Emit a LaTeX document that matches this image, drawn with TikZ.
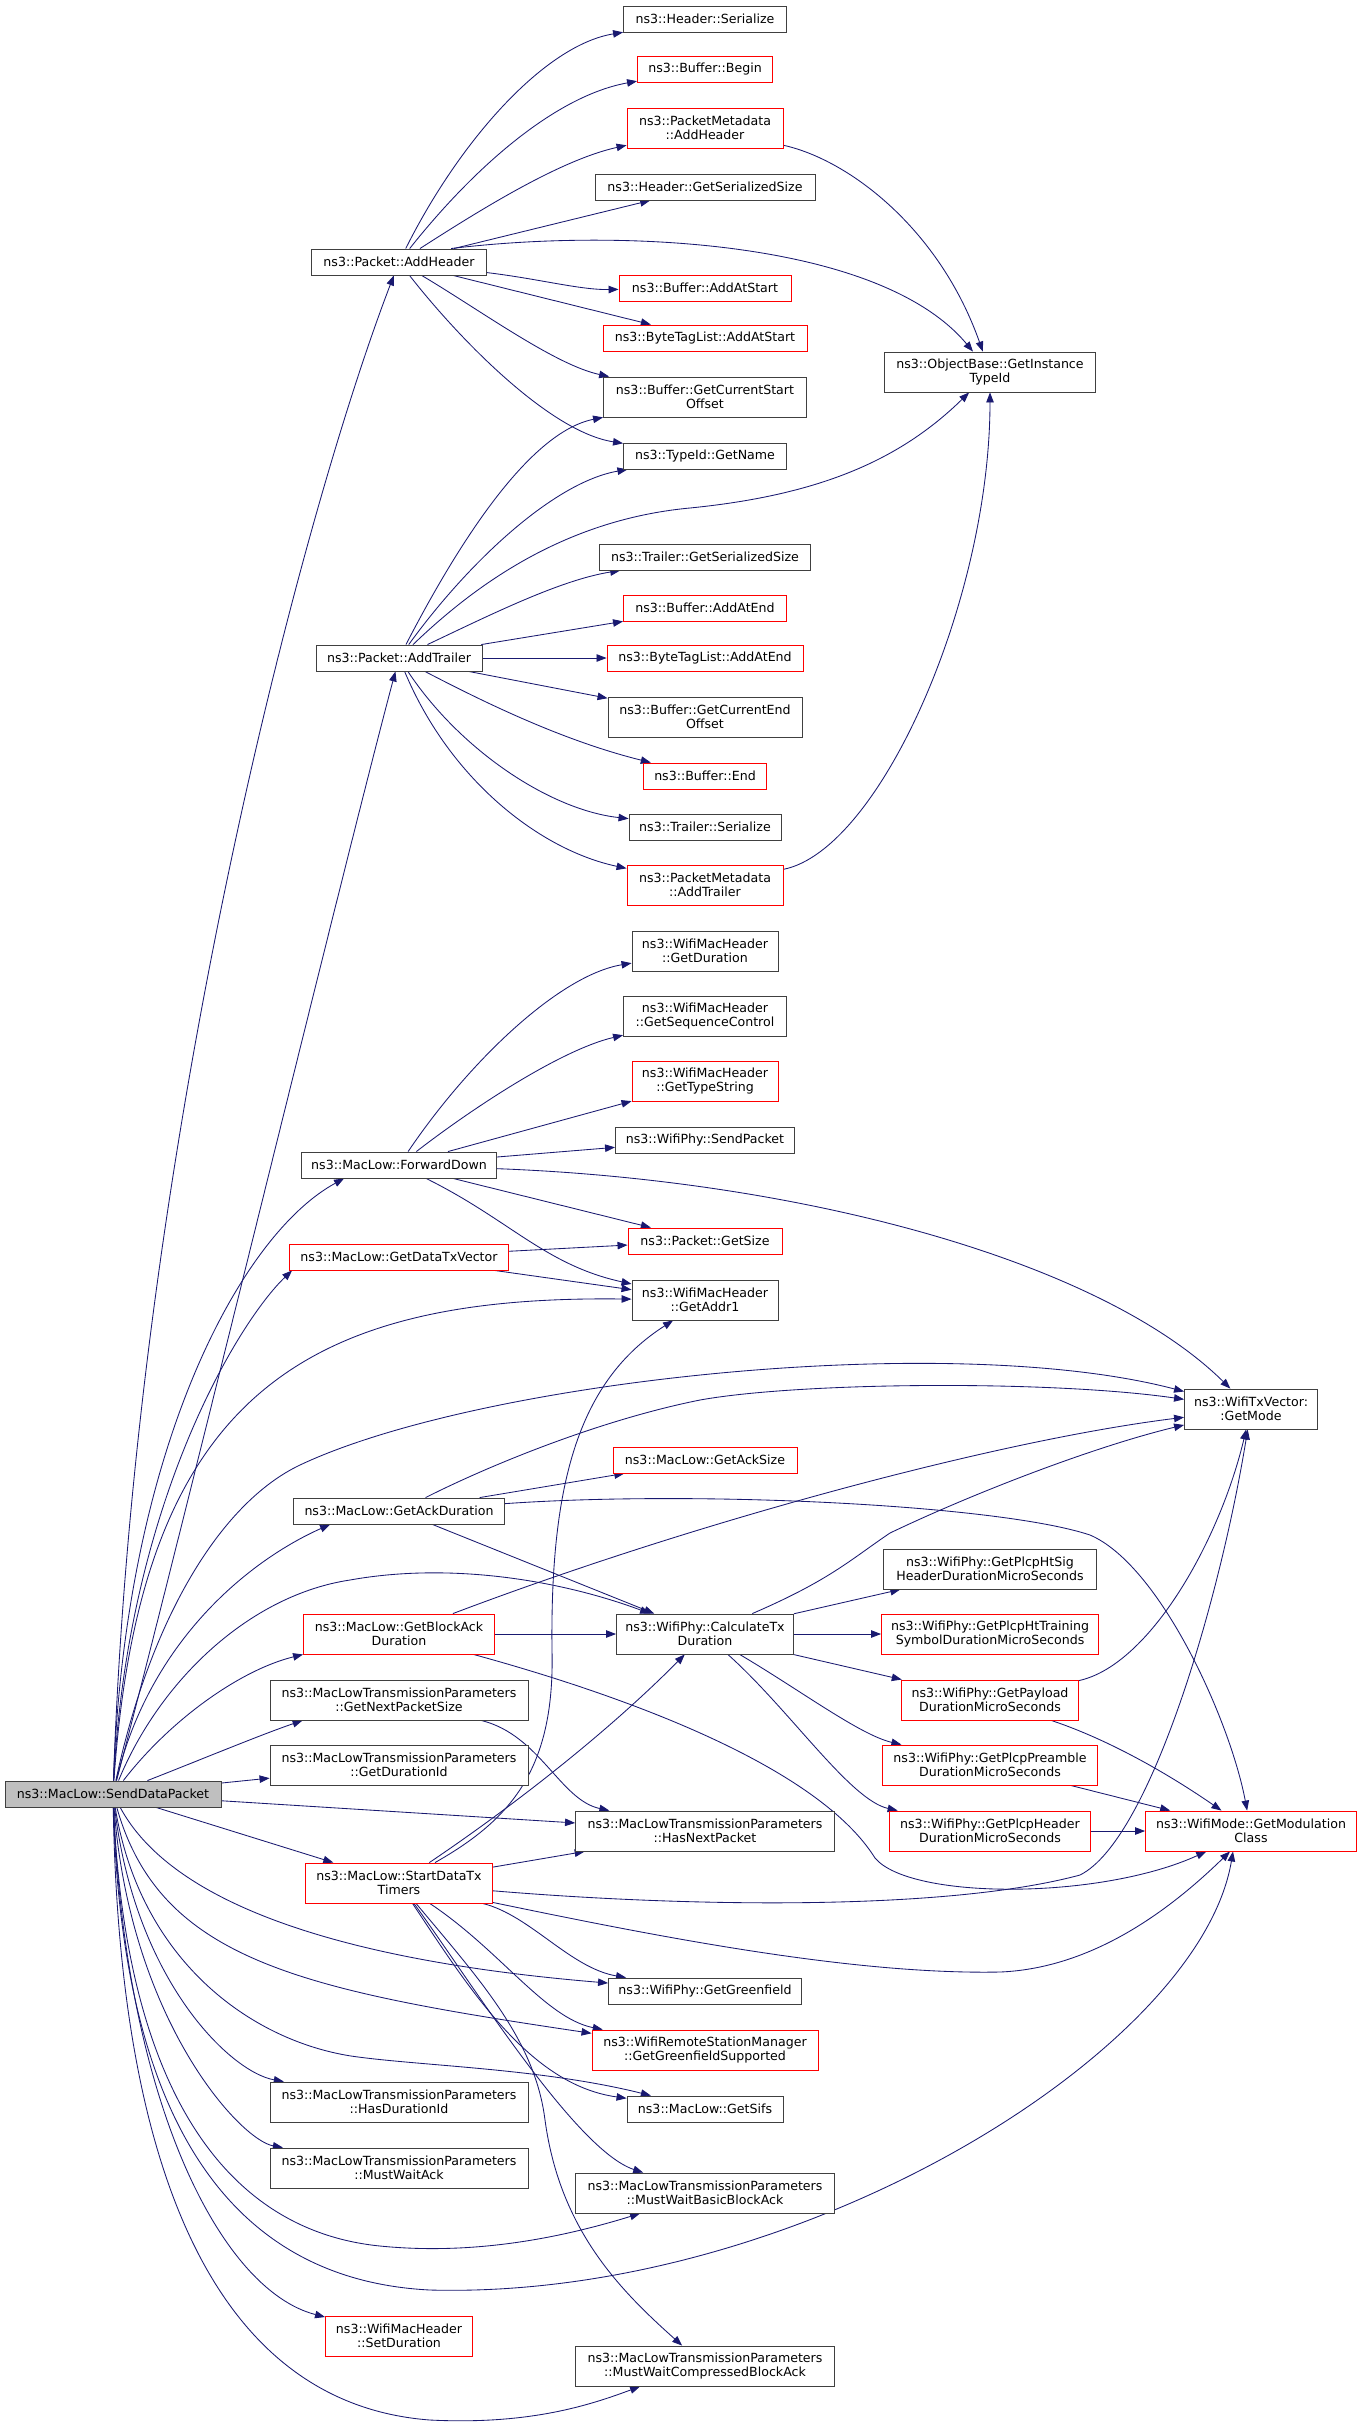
\documentclass[tikz,border=0pt]{standalone}
\usepackage{fontspec}
\setmainfont{DejaVu Sans}
\usetikzlibrary{arrows.meta}
\pgfdeclarelayer{background}
\pgfsetlayers{background,main}
\definecolor{edgec}{HTML}{191970}
\definecolor{boxc}{HTML}{404040}
\definecolor{redc}{HTML}{FF0000}
\definecolor{fillc}{HTML}{BFBFBF}
\tikzset{
  fn/.style={draw=boxc, fill=white, line width=0.9pt, inner sep=0pt, minimum height=26pt,
    align=center, font=\fontsize{12.6}{14.4}\selectfont, text=black},
  two/.style={minimum height=40pt},
  redbox/.style={draw=redc},
  edge/.style={draw=edgec, line width=0.85pt, -{Triangle[length=10pt,width=7.5pt]}},
}
\begin{document}
\begin{tikzpicture}[x=1pt,y=-1pt]
\useasboundingbox (0,0) rectangle (1363,2425);
% ---------- nodes ----------
\node[fn, fill=fillc, minimum width=216pt] (S) at (113,1794) {ns3::MacLow::SendDataPacket};
% column 2
\node[fn, minimum width=175pt] (AH) at (399,262) {ns3::Packet::AddHeader};
\node[fn, minimum width=166pt] (AT) at (399,658) {ns3::Packet::AddTrailer};
\node[fn, minimum width=195pt] (FD) at (399,1165) {ns3::MacLow::ForwardDown};
\node[fn, redbox, minimum width=219pt] (GDT) at (399,1257) {ns3::MacLow::GetDataTxVector};
\node[fn, minimum width=211pt] (GAD) at (399,1511) {ns3::MacLow::GetAckDuration};
\node[fn, two, redbox, minimum width=191pt] (GBA) at (399,1634) {ns3::MacLow::GetBlockAck\\Duration};
\node[fn, two, minimum width=258pt] (GNPS) at (399,1700) {ns3::MacLowTransmissionParameters\\::GetNextPacketSize};
\node[fn, two, minimum width=258pt] (GDI) at (399,1765) {ns3::MacLowTransmissionParameters\\::GetDurationId};
\node[fn, two, redbox, minimum width=187pt] (SDT) at (399,1883) {ns3::MacLow::StartDataTx\\Timers};
\node[fn, two, minimum width=258pt] (HDI) at (399,2102) {ns3::MacLowTransmissionParameters\\::HasDurationId};
\node[fn, two, minimum width=258pt] (MWA) at (399,2168) {ns3::MacLowTransmissionParameters\\::MustWaitAck};
\node[fn, two, redbox, minimum width=147pt] (SD) at (399,2336) {ns3::WifiMacHeader\\::SetDuration};
% column 3
\node[fn, minimum width=163pt] (HS) at (705,19) {ns3::Header::Serialize};
\node[fn, redbox, minimum width=135pt] (BB) at (705,69) {ns3::Buffer::Begin};
\node[fn, two, redbox, minimum width=156pt] (PMAH) at (705,128) {ns3::PacketMetadata\\::AddHeader};
\node[fn, minimum width=220pt] (HGSS) at (705,187) {ns3::Header::GetSerializedSize};
\node[fn, redbox, minimum width=172pt] (BAAS) at (705,288) {ns3::Buffer::AddAtStart};
\node[fn, redbox, minimum width=204pt] (BTAS) at (705,338) {ns3::ByteTagList::AddAtStart};
\node[fn, two, minimum width=203pt] (GCSO) at (705,397) {ns3::Buffer::GetCurrentStart\\Offset};
\node[fn, minimum width=163pt] (TGN) at (705,456) {ns3::TypeId::GetName};
\node[fn, minimum width=211pt] (TGSS) at (705,557) {ns3::Trailer::GetSerializedSize};
\node[fn, redbox, minimum width=163pt] (BAAE) at (705,608) {ns3::Buffer::AddAtEnd};
\node[fn, redbox, minimum width=196pt] (BTAE) at (705,658) {ns3::ByteTagList::AddAtEnd};
\node[fn, two, minimum width=194pt] (GCEO) at (705,717) {ns3::Buffer::GetCurrentEnd\\Offset};
\node[fn, redbox, minimum width=123pt] (BE) at (705,776) {ns3::Buffer::End};
\node[fn, minimum width=152pt] (TS) at (705,827) {ns3::Trailer::Serialize};
\node[fn, two, redbox, minimum width=156pt] (PMAT) at (705,885) {ns3::PacketMetadata\\::AddTrailer};
\node[fn, two, minimum width=146pt] (WGD) at (705,951) {ns3::WifiMacHeader\\::GetDuration};
\node[fn, two, minimum width=163pt] (WGSC) at (705,1016) {ns3::WifiMacHeader\\::GetSequenceControl};
\node[fn, two, redbox, minimum width=146pt] (WGTS) at (705,1081) {ns3::WifiMacHeader\\::GetTypeString};
\node[fn, minimum width=179pt] (WSP) at (705,1140) {ns3::WifiPhy::SendPacket};
\node[fn, redbox, minimum width=154pt] (PGS) at (705,1241) {ns3::Packet::GetSize};
\node[fn, two, minimum width=146pt] (WGA1) at (705,1300) {ns3::WifiMacHeader\\::GetAddr1};
\node[fn, redbox, minimum width=184pt] (GAS) at (705,1460) {ns3::MacLow::GetAckSize};
\node[fn, two, minimum width=177pt] (CTD) at (705,1634) {ns3::WifiPhy::CalculateTx\\Duration};
\node[fn, two, minimum width=259pt] (HNP) at (705,1831) {ns3::MacLowTransmissionParameters\\::HasNextPacket};
\node[fn, minimum width=193pt] (WGG) at (705,1991) {ns3::WifiPhy::GetGreenfield};
\node[fn, two, redbox, minimum width=226pt] (GGS) at (705,2050) {ns3::WifiRemoteStationManager\\::GetGreenfieldSupported};
\node[fn, minimum width=156pt] (GS) at (705,2109) {ns3::MacLow::GetSifs};
\node[fn, two, minimum width=259pt] (MWBBA) at (705,2193) {ns3::MacLowTransmissionParameters\\::MustWaitBasicBlockAck};
\node[fn, two, minimum width=259pt] (MWCBA) at (705,2366) {ns3::MacLowTransmissionParameters\\::MustWaitCompressedBlockAck};
% column 4
\node[fn, two, minimum width=211pt] (OB) at (990,372) {ns3::ObjectBase::GetInstance\\TypeId};
\node[fn, two, minimum width=213pt] (PHS) at (990,1569) {ns3::WifiPhy::GetPlcpHtSig\\HeaderDurationMicroSeconds};
\node[fn, two, redbox, minimum width=217pt] (PHT) at (990,1634) {ns3::WifiPhy::GetPlcpHtTraining\\SymbolDurationMicroSeconds};
\node[fn, two, redbox, minimum width=177pt] (PPD) at (990,1700) {ns3::WifiPhy::GetPayload\\DurationMicroSeconds};
\node[fn, two, redbox, minimum width=215pt] (PPRE) at (990,1765) {ns3::WifiPhy::GetPlcpPreamble\\DurationMicroSeconds};
\node[fn, two, redbox, minimum width=201pt] (PHD) at (990,1831) {ns3::WifiPhy::GetPlcpHeader\\DurationMicroSeconds};
% column 5
\node[fn, two, minimum width=133pt] (GM) at (1251,1409) {ns3::WifiTxVector:\\:GetMode};
\node[fn, two, redbox, minimum width=211pt] (GMC) at (1251,1831) {ns3::WifiMode::GetModulation\\Class};
% ---------- edges ----------
\begin{pgfonlayer}{background}
\fill[white] (0,0) rectangle (1363,2425);
% from SendDataPacket
\draw[edge] (S) .. controls (135,1150) and (300,520) .. (AH);
\draw[edge] (S) .. controls (180,1540) and (340,880) .. (AT);
\draw[edge] (S) .. controls (125,1450) and (240,1235) .. ([xshift=43pt]FD.south west);
\draw[edge] (S) .. controls (128,1500) and (240,1320) .. ([xshift=3pt]GDT.south west);
\draw[edge] (S) .. controls (140,1400) and (300,1295) .. (WGA1);
\draw[edge] (S) .. controls (150,1620) and (220,1503) .. (300,1465) .. controls (480,1380) and (950,1330) .. (GM);
\draw[edge] (S) .. controls (150,1640) and (250,1560) .. ([xshift=37pt]GAD.south west);
\draw[edge] (S) .. controls (160,1680) and (250,1595) .. (350,1580) .. controls (450,1562) and (560,1580) .. (CTD);
\draw[edge] (S) .. controls (170,1720) and (240,1670) .. (GBA.south west);
\draw[edge] (S) .. controls (200,1760) and (260,1735) .. ([xshift=33pt]GNPS.south west);
\draw[edge] (S) -- (GDI);
\draw[edge] (S) -- (HNP);
\draw[edge] (S) -- (SDT);
\draw[edge] (S) .. controls (170,1900) and (330,1960) .. (WGG);
\draw[edge] (S) .. controls (160,1960) and (300,1990) .. (GGS);
\draw[edge] (S) .. controls (140,1960) and (250,2040) .. (351,2056) .. controls (420,2066) and (540,2068) .. (GS);
\draw[edge] (S) .. controls (135,1980) and (230,2072) .. (HDI);
\draw[edge] (S) .. controls (130,2020) and (240,2140) .. (MWA);
\draw[edge] (S) .. controls (125,2080) and (220,2230) .. (380,2246) .. controls (480,2256) and (570,2235) .. ([xshift=65pt]MWBBA.south west);
\draw[edge] (S) .. controls (122,2120) and (230,2280) .. (430,2290) .. controls (800,2300) and (1200,2050) .. ([xshift=-18pt]GMC.south);
\draw[edge] (S) .. controls (125,2100) and (220,2290) .. (SD);
\draw[edge] (S) .. controls (120,2200) and (230,2405) .. (430,2420) .. controls (530,2425) and (590,2405) .. ([xshift=65pt]MWCBA.south west);
% from AddHeader
\draw[edge] (AH) .. controls (460,140) and (545,45) .. (HS);
\draw[edge] (AH) .. controls (480,160) and (560,95) .. (BB);
\draw[edge] (AH) .. controls (480,210) and (560,160) .. (PMAH);
\draw[edge] (AH) -- (HGSS);
\draw[edge] ([xshift=140pt]AH.north west) .. controls (620,228) and (880,240) .. (OB);
\draw[edge] (AH) .. controls (540,279) and (580,290) .. (BAAS);
\draw[edge] (AH) -- (BTAS);
\draw[edge] (AH) .. controls (480,310) and (555,365) .. (GCSO);
\draw[edge] (AH) .. controls (460,340) and (550,432) .. (TGN);
\draw[edge] (PMAH) .. controls (850,160) and (940,230) .. (OB);
% from AddTrailer
\draw[edge] (AT) .. controls (460,540) and (530,432) .. (GCSO);
\draw[edge] (AT) .. controls (470,560) and (555,482) .. (TGN);
\draw[edge] (AT) .. controls (470,590) and (560,520) .. (690,508) .. controls (820,495) and (900,460) .. (OB);
\draw[edge] (AT) .. controls (490,615) and (560,580) .. (TGSS);
\draw[edge] (AT) -- (BAAE);
\draw[edge] (AT) -- (BTAE);
\draw[edge] (AT) -- (GCEO);
\draw[edge] (AT) .. controls (480,700) and (560,740) .. (BE);
\draw[edge] (AT) .. controls (460,750) and (550,810) .. (TS);
\draw[edge] (AT) .. controls (450,780) and (540,850) .. (PMAT);
\draw[edge] (PMAT) .. controls (880,850) and (990,600) .. (OB);
% from ForwardDown
\draw[edge] (FD) .. controls (470,1060) and (560,975) .. (WGD);
\draw[edge] (FD) .. controls (470,1110) and (560,1050) .. (WGSC);
\draw[edge] (FD) -- (WGTS);
\draw[edge] (FD) -- (WSP);
\draw[edge] (FD) .. controls (800,1180) and (1100,1260) .. (GM);
\draw[edge] (FD) -- (PGS);
\draw[edge] (FD) .. controls (510,1220) and (545,1265) .. (WGA1);
% from GetDataTxVector
\draw[edge] (GDT) -- (PGS);
\draw[edge] (GDT) -- (WGA1);
% from GetAckDuration
\draw[edge] (GAD) -- (GAS);
\draw[edge] (GAD) .. controls (490,1465) and (600,1420) .. (700,1400) .. controls (800,1382) and (1050,1380) .. (GM);
\draw[edge] (GAD) .. controls (700,1490) and (1000,1505) .. (1090,1535) .. controls (1160,1565) and (1230,1720) .. (GMC);
\draw[edge] (GAD) -- (CTD);
% from GetBlockAckDuration
\draw[edge] (GBA) -- (CTD);
\draw[edge] (GBA) .. controls (700,1520) and (1000,1440) .. (GM);
\draw[edge] (GBA) .. controls (640,1700) and (820,1770) .. (875,1858) .. controls (910,1900) and (1100,1900) .. (GMC);
% from CalculateTxDuration
\draw[edge] (CTD) -- (PHS);
\draw[edge] (CTD) -- (PHT);
\draw[edge] (CTD) -- (PPD);
\draw[edge] (CTD) .. controls (800,1690) and (860,1735) .. (PPRE);
\draw[edge] (CTD) .. controls (790,1710) and (850,1800) .. (PHD);
\draw[edge] (CTD) .. controls (830,1580) and (850,1560) .. (890,1533) .. controls (980,1490) and (1100,1445) .. (GM);
% plcp functions
\draw[edge] (PPD) .. controls (1150,1665) and (1220,1540) .. (GM);
\draw[edge] (PPD) .. controls (1110,1740) and (1170,1775) .. (GMC);
\draw[edge] (PPRE) -- (GMC);
\draw[edge] (PHD) -- (GMC);
% GetNextPacketSize
\draw[edge] (GNPS) .. controls (540,1735) and (560,1800) .. (HNP);
% from StartDataTxTimers
\draw[edge] (SDT) -- (HNP);
\draw[edge] (SDT) .. controls (510,1820) and (555,1770) .. (552,1650) .. controls (550,1480) and (580,1380) .. (WGA1);
\draw[edge] (SDT) .. controls (500,1815) and (600,1740) .. (CTD);
\draw[edge] (SDT) .. controls (700,1908) and (950,1910) .. (1080,1875) .. controls (1150,1840) and (1220,1600) .. (GM);
\draw[edge] (SDT) .. controls (650,1935) and (850,1975) .. (1000,1972) .. controls (1100,1968) and (1180,1900) .. (GMC);
\draw[edge] (SDT) .. controls (530,1915) and (570,1968) .. (WGG);
\draw[edge] (SDT) .. controls (500,1950) and (545,2018) .. (GGS);
\draw[edge] (SDT) .. controls (470,1990) and (530,2085) .. (GS);
\draw[edge] (SDT) .. controls (470,1980) and (575,2150) .. (MWBBA);
\draw[edge] (SDT) .. controls (480,1980) and (535,2040) .. (545,2120) .. controls (560,2230) and (620,2290) .. (MWCBA);
\end{pgfonlayer}
\end{tikzpicture}
\end{document}
